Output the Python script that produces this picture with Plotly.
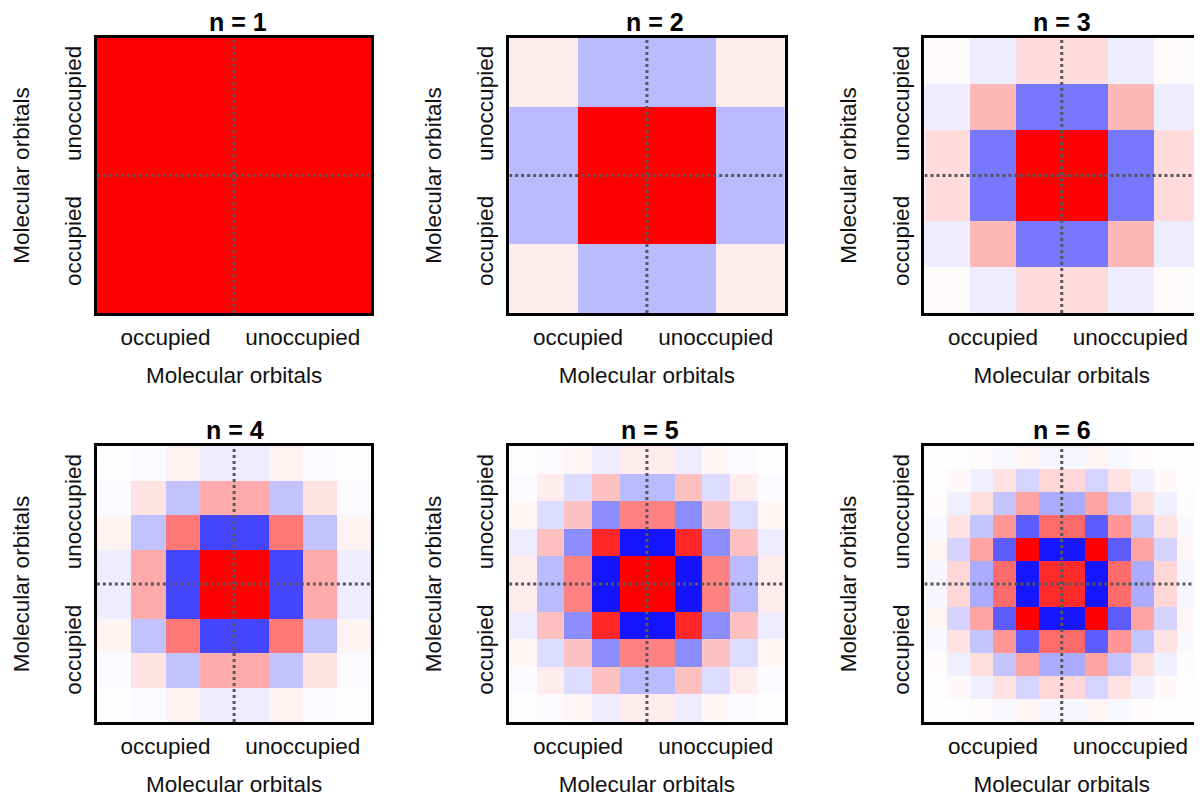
import plotly.graph_objects as go

# ---------------- data ----------------
titles = ["n = 1", "n = 2", "n = 3", "n = 4", "n = 5", "n = 6"]
tick_labels = ["occupied", "unoccupied"]
axis_title = "Molecular orbitals"

z_n1 = [
    [1, 1],
    [1, 1],
]

z_n2 = [
    [0.07, -0.27, -0.27, 0.07],
    [-0.27, 1, 1, -0.27],
    [-0.27, 1, 1, -0.27],
    [0.07, -0.27, -0.27, 0.07],
]

z_n3 = [
    [0.02, -0.07, 0.14, 0.14, -0.07, 0.02],
    [-0.07, 0.28, -0.53, -0.53, 0.28, -0.07],
    [0.14, -0.53, 1, 1, -0.53, 0.14],
    [0.14, -0.53, 1, 1, -0.53, 0.14],
    [-0.07, 0.28, -0.53, -0.53, 0.28, -0.07],
    [0.02, -0.07, 0.14, 0.14, -0.07, 0.02],
]

z_n4 = [
    [0.005, -0.02, 0.05, -0.07, -0.07, 0.05, -0.02, 0.005],
    [-0.02, 0.11, -0.24, 0.33, 0.33, -0.24, 0.11, -0.02],
    [0.05, -0.24, 0.53, -0.73, -0.73, 0.53, -0.24, 0.05],
    [-0.07, 0.33, -0.73, 1, 1, -0.73, 0.33, -0.07],
    [-0.07, 0.33, -0.73, 1, 1, -0.73, 0.33, -0.07],
    [0.05, -0.24, 0.53, -0.73, -0.73, 0.53, -0.24, 0.05],
    [-0.02, 0.11, -0.24, 0.33, 0.33, -0.24, 0.11, -0.02],
    [0.005, -0.02, 0.05, -0.07, -0.07, 0.05, -0.02, 0.005],
]

z_n5 = [
    [0.006, -0.02, 0.037, -0.069, 0.075, 0.075, -0.069, 0.037, -0.02, 0.006],
    [-0.02, 0.073, -0.132, 0.248, -0.27, -0.27, 0.248, -0.132, 0.073, -0.02],
    [0.037, -0.132, 0.24, -0.451, 0.49, 0.49, -0.451, 0.24, -0.132, 0.037],
    [-0.069, 0.248, -0.451, 0.846, -0.92, -0.92, 0.846, -0.451, 0.248, -0.069],
    [0.075, -0.27, 0.49, -0.92, 1, 1, -0.92, 0.49, -0.27, 0.075],
    [0.075, -0.27, 0.49, -0.92, 1, 1, -0.92, 0.49, -0.27, 0.075],
    [-0.069, 0.248, -0.451, 0.846, -0.92, -0.92, 0.846, -0.451, 0.248, -0.069],
    [0.037, -0.132, 0.24, -0.451, 0.49, 0.49, -0.451, 0.24, -0.132, 0.037],
    [-0.02, 0.073, -0.132, 0.248, -0.27, -0.27, 0.248, -0.132, 0.073, -0.02],
    [0.006, -0.02, 0.037, -0.069, 0.075, 0.075, -0.069, 0.037, -0.02, 0.006],
]

z_n6 = [
    [0.002, -0.007, 0.014, -0.026, 0.04, -0.037, -0.037, 0.04, -0.026, 0.014, -0.007, 0.002],
    [-0.007, 0.029, -0.061, 0.109, -0.17, 0.156, 0.156, -0.17, 0.109, -0.061, 0.029, -0.007],
    [0.014, -0.061, 0.13, -0.23, 0.36, -0.329, -0.329, 0.36, -0.23, 0.13, -0.061, 0.014],
    [-0.026, 0.109, -0.23, 0.41, -0.64, 0.586, 0.586, -0.64, 0.41, -0.23, 0.109, -0.026],
    [0.04, -0.17, 0.36, -0.64, 1, -0.915, -0.915, 1, -0.64, 0.36, -0.17, 0.04],
    [-0.037, 0.156, -0.329, 0.586, -0.915, 0.837, 0.837, -0.915, 0.586, -0.329, 0.156, -0.037],
    [-0.037, 0.156, -0.329, 0.586, -0.915, 0.837, 0.837, -0.915, 0.586, -0.329, 0.156, -0.037],
    [0.04, -0.17, 0.36, -0.64, 1, -0.915, -0.915, 1, -0.64, 0.36, -0.17, 0.04],
    [-0.026, 0.109, -0.23, 0.41, -0.64, 0.586, 0.586, -0.64, 0.41, -0.23, 0.109, -0.026],
    [0.014, -0.061, 0.13, -0.23, 0.36, -0.329, -0.329, 0.36, -0.23, 0.13, -0.061, 0.014],
    [-0.007, 0.029, -0.061, 0.109, -0.17, 0.156, 0.156, -0.17, 0.109, -0.061, 0.029, -0.007],
    [0.002, -0.007, 0.014, -0.026, 0.04, -0.037, -0.037, 0.04, -0.026, 0.014, -0.007, 0.002],
]

matrices = [z_n1, z_n2, z_n3, z_n4, z_n5, z_n6]

# ---------------- layout ----------------
OFF = 8                      # page body margin
W, H = 1202 - OFF, 800 - OFF  # figure size
# panel frames in window pixels
col_px = [(97, 372), (510, 786), (926, 1201)]
row_px = [(38, 313), (446, 722)]
title_shift = [4, 8, 0, 1, 3, 0]

FONT = "Liberation Sans, Arial, Helvetica, sans-serif"
bwr = [[0.0, "rgb(0,0,255)"], [0.5, "rgb(255,255,255)"], [1.0, "rgb(255,0,0)"]]

fig = go.Figure()
layout = dict(
    width=W, height=H,
    margin=dict(l=0, r=0, t=0, b=0),
    paper_bgcolor="white", plot_bgcolor="white",
    font=dict(family=FONT, size=22, color="#111111"),
    showlegend=False,
)
shapes = []
annotations = []

for k, z in enumerate(matrices):
    r, c = divmod(k, 3)
    m = len(z)
    half = m / 2
    idx = "" if k == 0 else str(k + 1)
    xa, ya = "x" + idx, "y" + idx
    fig.add_trace(go.Heatmap(
        z=z, x=list(range(m)), y=list(range(m)),
        colorscale=bwr, zmin=-1, zmax=1, showscale=False,
        xaxis=xa, yaxis=ya, hoverinfo="z",
    ))
    x0, x1 = col_px[c][0] - OFF, col_px[c][1] - OFF
    y0, y1 = row_px[r][0] - OFF, row_px[r][1] - OFF
    tickv = [(half - 1) / 2, (3 * half - 1) / 2]
    layout["xaxis" + idx] = dict(
        domain=[x0 / W, x1 / W], anchor=ya,
        range=[-0.5, m - 0.5], showgrid=False, zeroline=False,
        tickvals=tickv, ticktext=tick_labels, ticks="",
        showline=True, mirror=True, linecolor="black", linewidth=2.5,
        title=dict(text=axis_title, standoff=19, font=dict(size=22.5)),
        tickfont=dict(size=22.5), ticklabelstandoff=2,
    )
    layout["yaxis" + idx] = dict(
        domain=[1 - y1 / H, 1 - y0 / H], anchor=xa,
        range=[-0.5, m - 0.5], showgrid=False, zeroline=False,
        tickvals=tickv, ticktext=tick_labels, ticks="", tickangle=-90,
        showline=True, mirror=True, linecolor="black", linewidth=2.5,
        title=dict(text=axis_title, standoff=26, font=dict(size=22.5)),
        tickfont=dict(size=22.5), ticklabelstandoff=4,
    )
    # dotted separators between occupied / unoccupied blocks
    shapes.append(dict(type="line", xref=xa, yref=ya,
                       x0=half - 0.5, x1=half - 0.5, y0=-0.5, y1=m - 0.5,
                       line=dict(color="#585858", width=3, dash="dot"), layer="above"))
    shapes.append(dict(type="line", xref=xa, yref=ya,
                       x0=-0.5, x1=m - 0.5, y0=half - 0.5, y1=half - 0.5,
                       line=dict(color="#585858", width=3, dash="dot"), layer="above"))
    annotations.append(dict(
        text="<b>" + titles[k] + "</b>", xref=xa + " domain", yref=ya + " domain",
        x=0.5, y=1, xanchor="center", yanchor="bottom", yshift=0, xshift=title_shift[k],
        showarrow=False, font=dict(size=25, family=FONT, color="black"),
    ))

layout["shapes"] = shapes
layout["annotations"] = annotations
fig.update_layout(**layout)
fig.write_html("out.html")
